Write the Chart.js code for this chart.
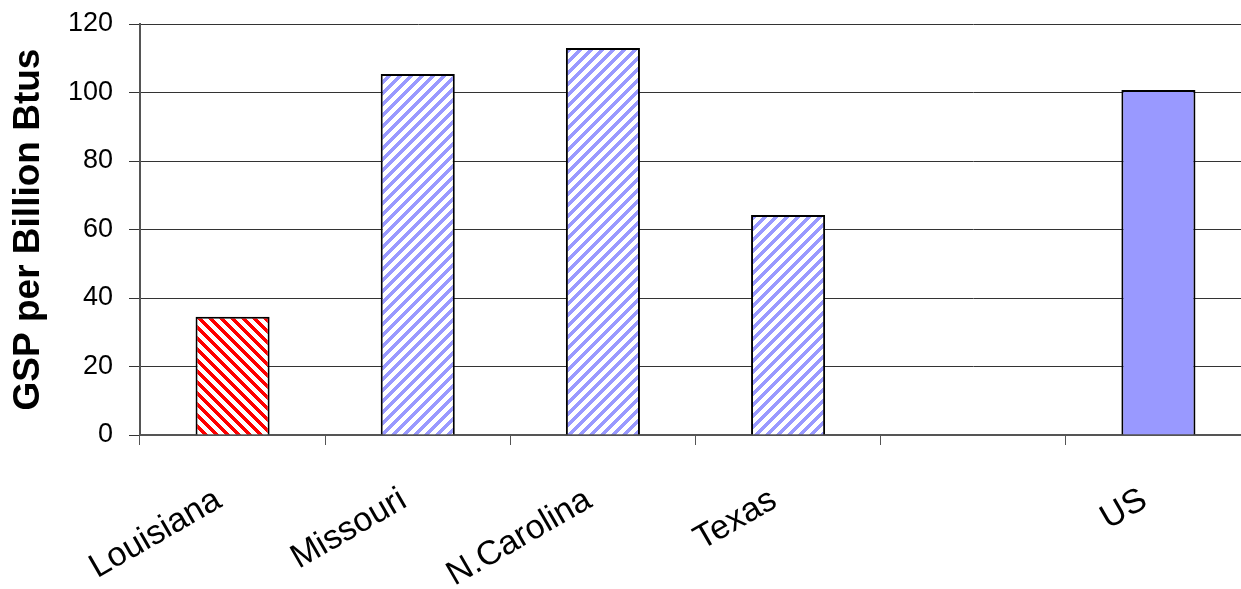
<!DOCTYPE html>
<html>
<head>
<meta charset="utf-8">
<script src="https://cdn.jsdelivr.net/npm/chart.js@4/dist/chart.umd.min.js"></script>
<style>
  html, body { margin: 0; padding: 0; background: #fff; overflow: hidden; }
  #wrap { width: 1251px; height: 589px; }
</style>
</head>
<body>
<div id="wrap"><canvas id="c" width="1251" height="589"></canvas></div>
<script>
const states = ['Louisiana', 'Missouri', 'N.Carolina', 'Texas', '', 'US'];
const gspPerBtu = [34.5, 105.4, 113.0, 64.2, null, 100.7];
const yTicks = [0, 20, 40, 60, 80, 100, 120];

const canvas = document.getElementById('c');
const ctx = canvas.getContext('2d');
const FONT = 'Liberation Sans, Arial, sans-serif';

// pixel stripe tile, '\' or '/', no seams
function stripes(color, dir) {
  const s = 11;
  const tile = document.createElement('canvas');
  tile.width = tile.height = s;
  const g = tile.getContext('2d');
  g.fillStyle = '#fff';
  g.fillRect(0, 0, s, s);
  g.fillStyle = color;
  for (let y = 0; y < s; y++) {
    for (let x = 0; x < s; x++) {
      const k = dir === '\\' ? (x - y + s) % s : (x + y) % s;
      if (k < 5) g.fillRect(x, y, 1, 1);
    }
  }
  return ctx.createPattern(tile, 'repeat');
}

const redHatch = stripes('#ff0000', '\\');
const blueHatch = stripes('#9999ff', '/');
const fills = [redHatch, blueHatch, blueHatch, blueHatch, '#fff', '#9999ff'];

new Chart(canvas, {
  type: 'bar',
  data: {
    labels: states,
    datasets: [{
      data: gspPerBtu,
      backgroundColor: fills,
      borderColor: '#000',
      borderWidth: 2,
      categoryPercentage: 1,
      barPercentage: 0.4
    }]
  },
  options: {
    responsive: false,
    animation: false,
    layout: { padding: { top: 24, right: 0, left: 0, bottom: 0 } },
    plugins: { legend: { display: false }, tooltip: { enabled: false } },
    scales: {
      x: {
        offset: true,
        border: { color: '#555', width: 2 },
        grid: { offset: true, drawOnChartArea: false, drawTicks: true, tickLength: 10, color: '#555' },
        ticks: {
          color: '#000',
          font: { family: FONT, size: 34 },
          minRotation: 30,
          maxRotation: 30,
          padding: 35,
          labelOffset: -14,
          autoSkip: false
        },
        afterFit(scale) {
          scale.height = 154;
          scale.paddingLeft = 0;
          scale.paddingRight = 0;
        }
      },
      y: {
        min: 0,
        max: 120,
        afterBuildTicks(scale) { scale.ticks = yTicks.map(v => ({ value: v })); },
        border: { color: '#555', width: 2 },
        grid: { color: '#333', lineWidth: 1, tickLength: 11 },
        ticks: {
          color: '#000',
          font: { family: FONT, size: 27 },
          padding: 16
        },
        title: {
          display: true,
          text: 'GSP per Billion Btus',
          color: '#000',
          font: { family: FONT, size: 37, weight: 'bold' },
          padding: { top: 7, bottom: 0 }
        },
        afterFit(scale) {
          scale.width = 140;
          scale.paddingTop = 0;
          scale.paddingBottom = 0;
        }
      }
    }
  }
});
</script>
</body>
</html>
